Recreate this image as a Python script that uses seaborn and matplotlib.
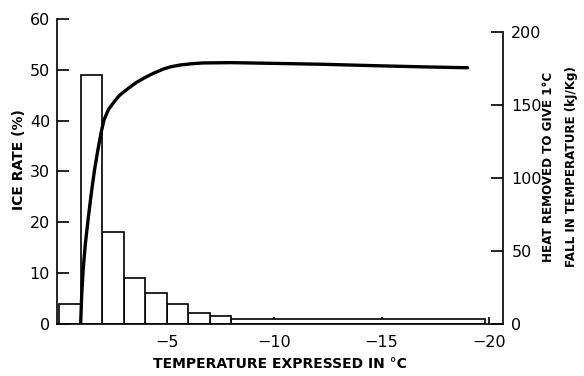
# Ice rate histogram with heat-removed curve (twin axes)

import numpy as np
import pandas as pd
import seaborn as sns
import matplotlib.pyplot as plt

# histogram bins (temperature, degC) and ice rate (%)
bin_edges = [0, -1, -2, -3, -4, -5, -6, -7, -8, -19.8]
ice_rate = [4, 49, 18, 9, 6, 4, 2.2, 1.6, 1.0]

# heat removed to give 1 degC fall (kJ/kg)
curve_temp = [-1.0, -1.05, -1.12, -1.22, -1.35, -1.5, -1.65, -1.8, -1.95, -2.09,
              -2.3, -2.55, -2.8, -3.05, -3.32, -3.6, -4.07, -4.4, -4.86, -5.2,
              -5.63, -6.2, -6.7, -8.0, -10.0, -12.2, -15.0, -17.0, -19.0]
curve_heat = [0, 20, 38, 55, 72, 90, 106, 119, 131, 140,
              147, 152, 156.5, 159.5, 162.5, 165.5, 169.4, 171.8, 174.7, 176.2,
              177.4, 178.3, 178.8, 179, 178.5, 177.9, 176.8, 176.1, 175.5]

x_ticks = [-5, -10, -15, -20]
left_ticks = [0, 10, 20, 30, 40, 50, 60]
right_ticks = [0, 50, 100, 150, 200]

sns.set_style("ticks")
plt.rcParams["font.family"] = ["DejaVu Sans"]
plt.rcParams["text.color"] = "black"
plt.rcParams["axes.labelcolor"] = "black"
plt.rcParams["xtick.color"] = "black"
plt.rcParams["ytick.color"] = "black"
plt.rcParams["axes.edgecolor"] = "black"

hist_df = pd.DataFrame({
    "temp": [(a + b) / 2 for a, b in zip(bin_edges[:-1], bin_edges[1:])],
    "rate": ice_rate,
})
curve_df = pd.DataFrame({"temp": curve_temp, "heat": curve_heat})

fig = plt.figure(figsize=(5.84, 3.76), dpi=100)
ax = fig.add_axes([0.0976, 0.1383, 0.7637, 0.8112])

sns.histplot(data=hist_df, x="temp", weights="rate", bins=sorted(bin_edges),
             color="white", edgecolor="black", linewidth=1.2, alpha=1, ax=ax)
ax.set_xlim(0.1, -20.65)
ax.set_ylim(0, 60)
ax.set_xticks(x_ticks)
ax.set_yticks(left_ticks)
ax.set_ylabel("")
ax.set_xlabel("TEMPERATURE EXPRESSED IN °C", fontsize=10, fontweight="bold",
              labelpad=5)
ax.tick_params(axis="y", direction="in", length=8.6, width=1.2, labelsize=11.5, pad=5)
ax.tick_params(axis="x", direction="in", length=5, width=1.2, labelsize=11.5, pad=8)
for side in ["top", "right"]:
    ax.spines[side].set_visible(False)
for side in ["left", "bottom"]:
    ax.spines[side].set_linewidth(1.2)

ax2 = ax.twinx()
sns.lineplot(data=curve_df, x="temp", y="heat", color="black", linewidth=2.4,
             estimator=None, ax=ax2)
ax2.set_xlim(0.1, -20.65)
ax2.set_ylim(0, 200 * 305 / 292)
ax2.set_yticks(right_ticks)
ax2.set_ylabel("")
ax2.tick_params(axis="y", direction="in", length=8.6, width=1.2, labelsize=11.5, pad=6)
for side in ["top", "left", "bottom"]:
    ax2.spines[side].set_visible(False)
ax2.spines["right"].set_bounds(0, 200)
ax2.spines["right"].set_linewidth(1.2)

fig.text(19 / 584, 1 - 160 / 376, "ICE RATE (%)", rotation=90, ha="center",
         va="center", fontsize=10, fontweight="bold")
fig.text(548 / 584, 1 - 167 / 376, "HEAT REMOVED TO GIVE 1°C", rotation=90,
         ha="center", va="center", fontsize=8.6, fontweight="bold")
fig.text(572 / 584, 1 - 167 / 376, "FALL IN TEMPERATURE (kJ/Kg)", rotation=90,
         ha="center", va="center", fontsize=8.6, fontweight="bold")

fig.savefig("out.png", dpi=100)
